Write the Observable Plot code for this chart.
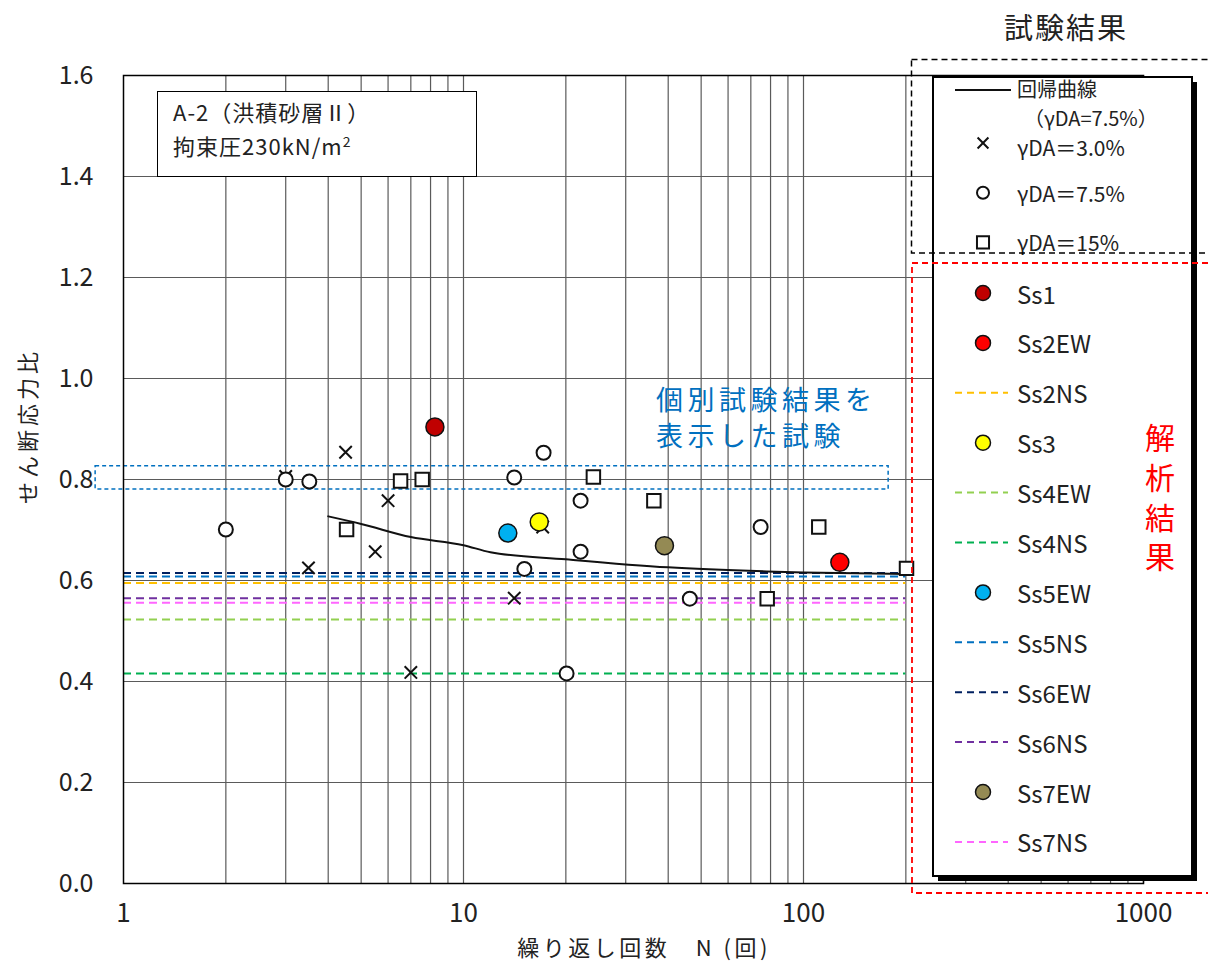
<!DOCTYPE html>
<html><head><meta charset="utf-8">
<script src="https://cdn.jsdelivr.net/npm/d3@7"></script>
<script src="https://cdn.jsdelivr.net/npm/@observablehq/plot@0.6"></script>
<style>
body{margin:0;background:#fff;font-family:"Noto Sans CJK JP","Noto Sans",sans-serif;}
#wrap{position:relative;width:1208px;height:962px;overflow:hidden;}
#wrap > svg{position:absolute;left:0;top:0;}
#info{position:absolute;left:157px;top:91px;width:303px;height:82px;border:1.5px solid #000;background:#fff;
  font-size:22px;color:#222;padding-left:15px;box-sizing:content-box;line-height:34px;padding-top:2px;letter-spacing:1px;}
#info sup{font-size:14px;line-height:0;}
</style></head><body><div id="wrap"><div id="info"></div></div>
<script>
// ---------- data ----------
const xTicks = [1, 10, 100, 1000];
const yTicks = [0, 0.2, 0.4, 0.6, 0.8, 1.0, 1.2, 1.4, 1.6];
const xGrid = [2,3,4,5,6,7,8,9,10,20,30,40,50,60,70,80,90,100,200,300,400,500,600,700,800,900,1000];

// 試験結果
const test30N = [3.0, 3.5, 4.5, 5.5, 6.0, 7.0, 14.1, 17.1];
const test30R = [0.806, 0.625, 0.854, 0.657, 0.758, 0.418, 0.565, 0.706];
const test75N = [2.0, 3.0, 3.52, 14.1, 15.1, 17.2, 20.1, 22.1, 22.1, 46.3, 74.8];
const test75R = [0.701, 0.800, 0.796, 0.804, 0.623, 0.853, 0.416, 0.758, 0.657, 0.564, 0.706];
const test15N = [4.53, 6.53, 7.56, 24.1, 36.3, 78.2, 110.9, 200.9];
const test15R = [0.701, 0.797, 0.800, 0.805, 0.758, 0.564, 0.706, 0.624];

// 回帰曲線 (γDA=7.5%)
const regN = [4, 5, 7, 10, 12, 20, 40, 78, 100, 200];
const regR = [0.727, 0.712, 0.686, 0.670, 0.656, 0.642, 0.626, 0.618, 0.616, 0.613];

// 解析結果
const ssNames  = ["Ss1","Ss2EW","Ss2NS","Ss3","Ss4EW","Ss4NS","Ss5EW","Ss5NS","Ss6EW","Ss6NS","Ss7EW","Ss7NS"];
const ssColors = ["#C00000","#FF0000","#FFC000","#FFFF00","#92D050","#00B050","#00B0F0","#0070C0","#002060","#7030A0","#948A54","#FF66FF"];
const ssKind   = ["point","point","line","point","line","line","point","line","line","line","point","line"];
const ssN      = [8.24, 127.9, null, 16.7, null, null, 13.5, null, null, null, 39.0, null];
const ssRatio  = [0.904, 0.636, 0.595, 0.716, 0.523, 0.416, 0.694, 0.608, 0.615, 0.565, 0.669, 0.556];
const lineExtentN = [1, 200];

// 個別試験結果を表示した試験 (highlight box)
const highlightN = [0.828, 178];
const highlightR = [0.780, 0.826];

// ---------- tables ----------
const zip = (ns, rs) => ns.map((n, i) => ({n, r: rs[i]}));
const t30 = zip(test30N, test30R), t75 = zip(test75N, test75R), t15 = zip(test15N, test15R);
const reg = zip(regN, regR);
const ss = ssNames.map((name, i) => ({name, color: ssColors[i], kind: ssKind[i], n: ssN[i], r: ssRatio[i]}));
const ssLines = ss.filter(d => d.kind === "line");
const ssPts = ss.filter(d => d.kind === "point");

const FONT = '"Noto Sans CJK JP","Noto Sans",sans-serif';

const chart = Plot.plot({
  width: 1208, height: 962,
  marginLeft: 123, marginRight: 65, marginTop: 75, marginBottom: 79,
  style: {fontFamily: FONT, color: "#222", background: "transparent"},
  x: {type: "log", domain: [1, 1000]},
  y: {domain: [0, 1.6]},
  color: {type: "identity"},
  marks: [
    Plot.ruleX(xGrid, {stroke: "#5a5a5a", strokeWidth: 1.2}),
    Plot.ruleY(yTicks, {stroke: "#5a5a5a", strokeWidth: 1.2}),
    Plot.ruleY(ssLines, {y: "r", x1: lineExtentN[0], x2: lineExtentN[1], stroke: "color", strokeWidth: 2, strokeDasharray: "8,5"}),
    Plot.line(reg, {x: "n", y: "r", stroke: "#111", strokeWidth: 2, curve: "monotone-x"}),
    Plot.rect([{}], {x1: highlightN[0], x2: highlightN[1], y1: highlightR[0], y2: highlightR[1], fill: "none", stroke: "#0070C0", strokeWidth: 1.5, strokeDasharray: "4,3", clip: false}),
    Plot.dot(t30, {x: "n", y: "r", symbol: "times", r: 5.7, stroke: "#111", strokeWidth: 2}),
    Plot.dot(t75, {x: "n", y: "r", symbol: "circle", r: 7, fill: "white", stroke: "#111", strokeWidth: 2}),
    Plot.dot(t15, {x: "n", y: "r", symbol: "square", r: 7.6, fill: "white", stroke: "#111", strokeWidth: 2}),
    Plot.dot(ssPts, {x: "n", y: "r", r: 9, fill: "color", stroke: "#111", strokeWidth: 1.5}),
    Plot.axisX({ticks: xTicks, tickFormat: d => String(d), tickSize: 0, tickPadding: 20, fontSize: 26, label: null}),
    Plot.axisY({ticks: yTicks, tickFormat: d3.format(".1f"), tickSize: 0, tickPadding: 30, fontSize: 25, label: null}),
    Plot.frame({stroke: "#000", strokeWidth: 1.5})
  ]
});
const wrap = document.getElementById("wrap");
wrap.insertBefore(chart, wrap.firstChild);

document.getElementById("info").innerHTML = "A-2（洪積砂層Ⅱ）<br>拘束圧230kN/m<sup>2</sup>";

// ---------- overlay: axis titles, legend, annotation boxes ----------
const ov = d3.select(wrap).append("svg")
  .attr("width", 1208).attr("height", 962)
  .style("position", "absolute").style("left", 0).style("top", 0)
  .style("font-family", FONT);

ov.append("text").attr("x", 644).attr("y", 946).attr("text-anchor", "middle").attr("dominant-baseline", "central")
  .attr("font-size", 22).attr("letter-spacing", 3.5).attr("fill", "#222").text("繰り返し回数　N (回)");
ov.append("text").attr("transform", "translate(26,426) rotate(-90)").attr("text-anchor", "middle").attr("dominant-baseline", "central")
  .attr("font-size", 22).attr("letter-spacing", 4).attr("fill", "#222").text("せん断応力比");

// blue annotation text
const note = ["個別試験結果を", "表示した試験"];
note.forEach((t, i) => ov.append("text").attr("x", 656).attr("y", 398 + i * 36).attr("dominant-baseline", "central")
  .attr("font-size", 27).attr("letter-spacing", 4.5).attr("fill", "#0070C0").text(t));

// legend box
const LX = 933, LY = 77, LW = 259, LH = 799;
ov.append("rect").attr("x", LX + 5).attr("y", LY + 5).attr("width", LW).attr("height", LH).attr("fill", "#000");
ov.append("rect").attr("x", LX).attr("y", LY).attr("width", LW).attr("height", LH).attr("fill", "#fff").attr("stroke", "#000").attr("stroke-width", 2);

const symX = 983, txtX = 1017;
const lg = ov.append("g").attr("fill", "#222");
function label(y, t, x = txtX, fs = 24) {
  lg.append("text").attr("x", x).attr("y", y).attr("font-size", fs).attr("dominant-baseline", "central").text(t);
}
// regression
ov.append("line").attr("x1", 955).attr("x2", 1011).attr("y1", 90).attr("y2", 90).attr("stroke", "#111").attr("stroke-width", 2);
label(88, "回帰曲線", txtX, 20);
label(117, "（γDA=7.5%）", 1024, 20);
// test symbols
const testLegend = [
  {sym: d3.symbolTimes, label: "γDA＝3.0%", r: 5},
  {sym: d3.symbolCircle, label: "γDA＝7.5%", r: 6},
  {sym: d3.symbolSquare, label: "γDA＝15%", r: 6.8}
];
testLegend.forEach((d, i) => {
  const y = 143 + i * 49.7;
  ov.append("path").attr("transform", `translate(${symX},${y})`)
    .attr("d", d3.symbol(d.sym, Math.PI * d.r * d.r)())
    .attr("fill", d.sym === d3.symbolTimes ? "none" : "#fff").attr("stroke", "#111").attr("stroke-width", 2);
  label(y + (i === 0 ? 4 : 0), d.label, txtX, 21);
});
// analysis entries
ss.forEach((d, i) => {
  const y = 293 + i * 49.9;
  if (d.kind === "point") {
    ov.append("circle").attr("cx", symX).attr("cy", y).attr("r", 7.5).attr("fill", d.color).attr("stroke", "#111").attr("stroke-width", 1.5);
  } else {
    ov.append("line").attr("x1", 955).attr("x2", 1008).attr("y1", y).attr("y2", y)
      .attr("stroke", d.color).attr("stroke-width", 2).attr("stroke-dasharray", "7,5");
  }
  label(y, d.name);
});

// dashed group boxes
ov.append("rect").attr("x", 911.5).attr("y", 59.5).attr("width", 400).attr("height", 193.5)
  .attr("fill", "none").attr("stroke", "#000").attr("stroke-width", 1.5).attr("stroke-dasharray", "6,4");
ov.append("rect").attr("x", 912).attr("y", 263).attr("width", 400).attr("height", 630)
  .attr("fill", "none").attr("stroke", "#FF0000").attr("stroke-width", 1.8).attr("stroke-dasharray", "6,4");

ov.append("text").attr("x", 1066).attr("y", 26).attr("text-anchor", "middle").attr("dominant-baseline", "central")
  .attr("font-size", 29).attr("letter-spacing", 2).attr("fill", "#222").text("試験結果");
ov.append("text").attr("x", 1160).attr("y", 423)
  .style("writing-mode", "vertical-rl").attr("text-anchor", "start")
  .attr("font-size", 30).attr("letter-spacing", 9.6).attr("fill", "#FF0000").text("解析結果");
</script>
</body></html>
